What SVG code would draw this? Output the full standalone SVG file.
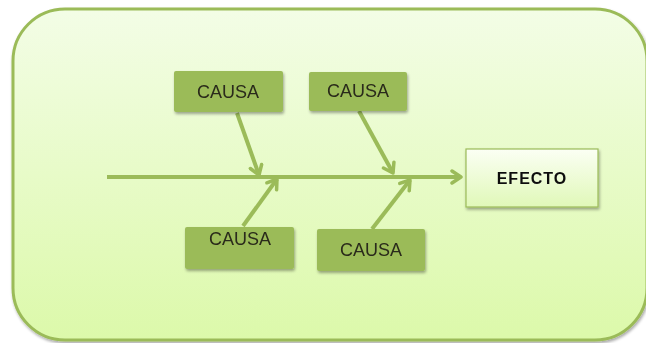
<svg xmlns="http://www.w3.org/2000/svg" width="646" height="343" viewBox="0 0 646 343">
<defs>
<linearGradient id="bg" x1="0" y1="0" x2="0" y2="1">
<stop offset="0" stop-color="#f3fde6"/>
<stop offset="1" stop-color="#dcf9aa"/>
</linearGradient>
<linearGradient id="ef" x1="0" y1="0" x2="0" y2="1">
<stop offset="0" stop-color="#fbfff4"/>
<stop offset="1" stop-color="#e0f8b8"/>
</linearGradient>
<filter id="sh" x="-10%" y="-10%" width="125%" height="130%">
<feGaussianBlur in="SourceAlpha" stdDeviation="1.5"/>
<feOffset dx="1" dy="2" result="b"/>
<feComponentTransfer><feFuncA type="linear" slope="0.35"/></feComponentTransfer>
<feMerge><feMergeNode/><feMergeNode in="SourceGraphic"/></feMerge>
</filter>
<marker id="ah" markerWidth="16" markerHeight="16" refX="12" refY="8" orient="auto" markerUnits="userSpaceOnUse">
<path d="M3,2 L12,8 L3,14" fill="none" stroke="#9bbb59" stroke-width="3.5" stroke-linecap="round" stroke-linejoin="round"/>
</marker>
<style>
.cause rect{fill:#9bbb59;}
.cause text{font-family:"Liberation Sans",Arial,sans-serif;font-size:18px;fill:#2a2a1a;text-anchor:middle;}
.conn line{stroke:#9bbb59;stroke-width:4;marker-end:url(#ah);}
</style>
</defs>
<rect x="13" y="9" width="634" height="331" rx="52" ry="52" fill="url(#bg)" stroke="#9bbb59" stroke-width="3" filter="url(#sh)"/>
<g id="connectors" class="conn">
<line x1="107" y1="177" x2="461" y2="177"/>
<line x1="237" y1="113" x2="259" y2="175"/>
<line x1="359" y1="111" x2="393" y2="173"/>
<line x1="243" y1="226" x2="277" y2="179"/>
<line x1="372" y1="229" x2="410" y2="180"/>
</g>
<g id="cause1" class="cause" filter="url(#sh)"><rect x="174" y="71" width="109" height="41" rx="2"/><text x="228" y="98">CAUSA</text></g>
<g id="cause2" class="cause" filter="url(#sh)"><rect x="309" y="72" width="98" height="39" rx="2"/><text x="358" y="97">CAUSA</text></g>
<g id="cause3" class="cause" filter="url(#sh)"><rect x="185" y="227" width="109" height="42" rx="2"/><text x="240" y="245">CAUSA</text></g>
<g id="cause4" class="cause" filter="url(#sh)"><rect x="317" y="229" width="108" height="42" rx="2"/><text x="371" y="256">CAUSA</text></g>
<g id="effect" filter="url(#sh)"><rect x="466" y="149" width="132" height="58" fill="url(#ef)" stroke="#9bbb59" stroke-width="1.2"/><text x="532" y="184" font-family="Liberation Sans,Arial,sans-serif" font-size="16" font-weight="bold" letter-spacing="1" text-anchor="middle" fill="#111">EFECTO</text></g>
</svg>
